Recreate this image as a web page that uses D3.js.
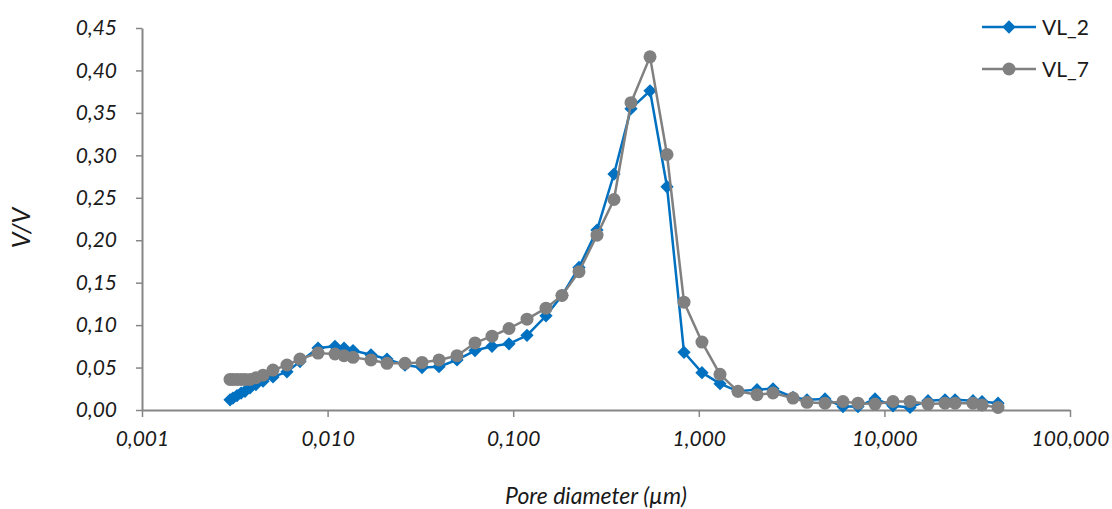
<!DOCTYPE html>
<html>
<head>
<meta charset="utf-8">
<script src="https://cdn.jsdelivr.net/npm/d3@7"></script>
<style>
  html, body { margin: 0; padding: 0; background: #fff; }
  svg { display: block; }
  text { font-family: Lato, "Open Sans", sans-serif; fill: #1a1a1a; }
</style>
</head>
<body>
<svg id="chart" width="1112" height="509"></svg>
<script>
// Pore diameters (µm)
const diameters = [0.00298, 0.00309, 0.00325, 0.00342, 0.00359, 0.00382, 0.00411, 0.00449, 0.00508, 0.00604,
  0.0071, 0.00888, 0.01096, 0.01226, 0.01371, 0.01713, 0.02089, 0.02612, 0.03226, 0.03983,
  0.0498, 0.06227, 0.07687, 0.09493, 0.1187, 0.1502, 0.1832, 0.2262, 0.2828, 0.3492,
  0.4312, 0.546, 0.6741, 0.8324, 1.04, 1.301, 1.626, 2.059, 2.511, 3.217,
  3.828, 4.786, 5.983, 7.208, 8.9, 11.13, 13.74, 17.18, 21.21, 24.02,
  30.02, 33.57, 40.94];

const vl2 = [0.012, 0.014, 0.017, 0.020, 0.022, 0.026, 0.030, 0.034, 0.039, 0.045,
  0.057, 0.073, 0.075, 0.073, 0.070, 0.065, 0.060, 0.053, 0.050, 0.051,
  0.059, 0.070, 0.075, 0.078, 0.088, 0.111, 0.135, 0.168, 0.212, 0.278,
  0.355, 0.376, 0.263, 0.068, 0.044, 0.031, 0.022, 0.024, 0.025, 0.015,
  0.012, 0.013, 0.004, 0.004, 0.013, 0.005, 0.003, 0.011, 0.012, 0.012,
  0.011, 0.010, 0.008];

const vl7 = [0.036, 0.036, 0.036, 0.036, 0.036, 0.036, 0.038, 0.041, 0.047, 0.053,
  0.060, 0.067, 0.066, 0.064, 0.062, 0.059, 0.055, 0.055, 0.056, 0.059,
  0.064, 0.079, 0.087, 0.096, 0.107, 0.120, 0.135, 0.163, 0.206, 0.248,
  0.362, 0.416, 0.301, 0.127, 0.080, 0.042, 0.022, 0.018, 0.020, 0.014,
  0.009, 0.008, 0.010, 0.008, 0.007, 0.010, 0.010, 0.007, 0.008, 0.008,
  0.008, 0.006, 0.003];

const seriesNames = ["VL_2", "VL_7"];
const xTicks = [0.001, 0.01, 0.1, 1, 10, 100];
const yTicks = [0, 0.05, 0.10, 0.15, 0.20, 0.25, 0.30, 0.35, 0.40, 0.45];
const xTitle = "Pore diameter (µm)";
const yTitle = "V/V";

const BLUE = "#0070C0", GRAY = "#808080", AXIS = "#868686";
const svg = d3.select("#chart");

const x = d3.scaleLog().domain([0.001, 100]).range([142, 1070]);
const y = d3.scaleLinear().domain([0, 0.45]).range([410, 28]);

const comma = (f) => (v) => d3.format(f)(v).replace(".", ",");

// Axes
const yAxis = svg.append("g").attr("transform", "translate(142,0)")
  .call(d3.axisLeft(y).tickValues(yTicks).tickSize(6).tickSizeOuter(0).tickPadding(19).tickFormat(comma(".2f")));
const xAxis = svg.append("g").attr("transform", "translate(0,410)")
  .call(d3.axisBottom(x).tickValues(xTicks).tickSize(7).tickSizeOuter(0).tickPadding(14).tickFormat(comma(".3f")));

[yAxis, xAxis].forEach(g => {
  g.select(".domain").attr("stroke", AXIS).attr("stroke-width", 2);
  g.selectAll(".tick line").attr("stroke", AXIS).attr("stroke-width", 1.5);
  g.selectAll(".tick text").attr("fill", "#1a1a1a")
    .style("font-family", "Lato, sans-serif").style("font-style", "italic").style("font-size", "21px");
});

// Titles
svg.append("text").attr("x", 596).attr("y", 504).attr("text-anchor", "middle")
  .style("font-style", "italic").style("font-size", "23px").text(xTitle);
svg.append("text").attr("transform", "translate(30,228) rotate(-90)").attr("text-anchor", "middle")
  .style("font-style", "italic").style("font-size", "25px").text(yTitle);

const diamond = d3.symbol().type(d3.symbolSquare).size(88);

function drawSeries(vals, color, kind) {
  const data = diameters.map((d, i) => [d, vals[i]]);
  const line = d3.line().x(d => x(d[0])).y(d => y(d[1]));
  const g = svg.append("g");
  g.append("path").datum(data).attr("d", line)
    .attr("fill", "none").attr("stroke", color).attr("stroke-width", 2.5).attr("stroke-linejoin", "round");
  if (kind === "diamond") {
    g.selectAll("path.m").data(data).join("path").attr("class", "m")
      .attr("d", diamond).attr("transform", d => `translate(${x(d[0])},${y(d[1])}) rotate(45)`)
      .attr("fill", color);
  } else {
    g.selectAll("circle").data(data).join("circle")
      .attr("cx", d => x(d[0])).attr("cy", d => y(d[1])).attr("r", 6.5).attr("fill", color);
  }
}

drawSeries(vl2, BLUE, "diamond");
drawSeries(vl7, GRAY, "circle");

// Legend
const legend = [
  { name: seriesNames[0], color: BLUE, kind: "diamond", y: 27 },
  { name: seriesNames[1], color: GRAY, kind: "circle", y: 69 }
];
legend.forEach(l => {
  const g = svg.append("g");
  g.append("line").attr("x1", 982).attr("x2", 1036).attr("y1", l.y).attr("y2", l.y)
    .attr("stroke", l.color).attr("stroke-width", 2.5);
  if (l.kind === "diamond") {
    g.append("path").attr("d", diamond).attr("transform", `translate(1009,${l.y}) rotate(45)`).attr("fill", l.color);
  } else {
    g.append("circle").attr("cx", 1009).attr("cy", l.y).attr("r", 6.5).attr("fill", l.color);
  }
  g.append("text").attr("x", 1042).attr("y", l.y).attr("dy", "0.36em")
    .style("font-size", "21px").text(l.name);
});
</script>
</body>
</html>
